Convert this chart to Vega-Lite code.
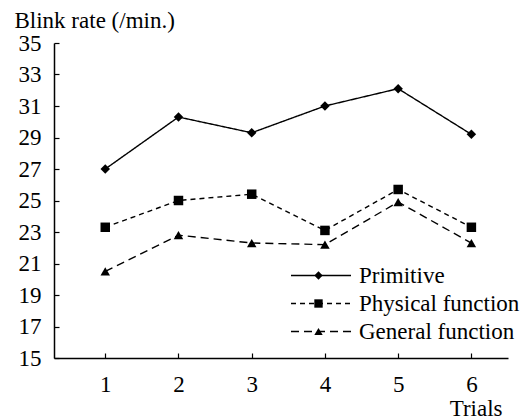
{
  "$schema": "https://vega.github.io/schema/vega-lite/v6.json",
  "width": 454,
  "height": 315,
  "autosize": "none",
  "padding": {"left": 54, "top": 43, "right": 15, "bottom": 61},
  "background": "white",
  "config": {
    "view": {"stroke": null},
    "font": "Liberation Serif",
    "legend": {
      "labelFont": "Liberation Serif",
      "labelFontSize": 23,
      "labelColor": "black",
      "labelLimit": 0,
      "padding": 0,
      "rowPadding": 4,
      "title": null
    }
  },
  "data": {
    "values": [
      {"trial": 1, "series": "Primitive", "rate": 27.0},
      {"trial": 2, "series": "Primitive", "rate": 30.3},
      {"trial": 3, "series": "Primitive", "rate": 29.3},
      {"trial": 4, "series": "Primitive", "rate": 31.0},
      {"trial": 5, "series": "Primitive", "rate": 32.1},
      {"trial": 6, "series": "Primitive", "rate": 29.2},
      {"trial": 1, "series": "Physical function", "rate": 23.3},
      {"trial": 2, "series": "Physical function", "rate": 25.0},
      {"trial": 3, "series": "Physical function", "rate": 25.4},
      {"trial": 4, "series": "Physical function", "rate": 23.1},
      {"trial": 5, "series": "Physical function", "rate": 25.7},
      {"trial": 6, "series": "Physical function", "rate": 23.3},
      {"trial": 1, "series": "General function", "rate": 20.5},
      {"trial": 2, "series": "General function", "rate": 22.8},
      {"trial": 3, "series": "General function", "rate": 22.3},
      {"trial": 4, "series": "General function", "rate": 22.2},
      {"trial": 5, "series": "General function", "rate": 24.9},
      {"trial": 6, "series": "General function", "rate": 22.3}
    ]
  },
  "encoding": {
    "x": {
      "field": "trial",
      "type": "quantitative",
      "scale": {"domain": [0.3, 6.5], "nice": false, "zero": false},
      "axis": {
        "values": [1, 2, 3, 4, 5, 6],
        "grid": false,
        "domainColor": "black",
        "domainWidth": 1.5,
        "tickColor": "black",
        "tickWidth": 1.2,
        "tickSize": -5,
        "labelPadding": 20,
        "labelFont": "Liberation Serif",
        "labelFontSize": 23,
        "labelColor": "black",
        "title": "Trials",
        "titleFont": "Liberation Serif",
        "titleFontSize": 23,
        "titleFontWeight": "normal",
        "titleColor": "black",
        "titleAnchor": null,
        "titleAlign": "right",
        "titleBaseline": "alphabetic",
        "titleX": 448,
        "titleY": 57
      }
    },
    "y": {
      "field": "rate",
      "type": "quantitative",
      "scale": {"domain": [15, 35], "nice": false, "zero": false},
      "axis": {
        "values": [15, 17, 19, 21, 23, 25, 27, 29, 31, 33, 35],
        "grid": false,
        "domainColor": "black",
        "domainWidth": 1.5,
        "tickColor": "black",
        "tickWidth": 1.2,
        "tickSize": -5,
        "labelPadding": 18,
        "labelFont": "Liberation Serif",
        "labelFontSize": 23,
        "labelColor": "black",
        "title": "Blink rate (/min.)",
        "titleFont": "Liberation Serif",
        "titleFontSize": 23,
        "titleFontWeight": "normal",
        "titleColor": "black",
        "titleAngle": 0,
        "titleAnchor": null,
        "titleAlign": "left",
        "titleBaseline": "alphabetic",
        "titleX": -40,
        "titleY": -16
      }
    }
  },
  "layer": [
    {
      "mark": {"type": "line", "color": "black", "strokeWidth": 1.4},
      "encoding": {
        "detail": {"field": "series", "type": "nominal"},
        "strokeDash": {
          "field": "series",
          "type": "nominal",
          "sort": ["Primitive", "Physical function", "General function"],
          "scale": {"range": [[1, 0], [5, 4], [8, 5]]},
          "legend": {
            "title": null,
            "orient": "none",
            "legendX": 233,
            "legendY": 221,
            "symbolType": "M-1,0H7",
            "symbolSize": 225,
            "symbolStrokeColor": "black",
            "symbolStrokeWidth": 1.4,
            "labelOffset": 49,
            "labelFont": "Liberation Serif",
            "labelFontSize": 23
          }
        }
      }
    },
    {
      "mark": {"type": "point", "filled": true, "color": "black", "opacity": 1, "size": 90},
      "encoding": {
        "shape": {
          "field": "series",
          "type": "nominal",
          "scale": {
            "domain": ["Primitive", "Physical function", "General function"],
            "range": ["diamond", "square", "triangle-up"]
          },
          "legend": {
            "title": null,
            "orient": "none",
            "legendX": 253,
            "legendY": 221,
            "symbolSize": 70,
            "symbolFillColor": "black",
            "symbolStrokeColor": "black",
            "symbolOpacity": 1,
            "labelOpacity": 0,
            "labelFont": "Liberation Serif",
            "labelFontSize": 23
          }
        }
      }
    }
  ]
}
